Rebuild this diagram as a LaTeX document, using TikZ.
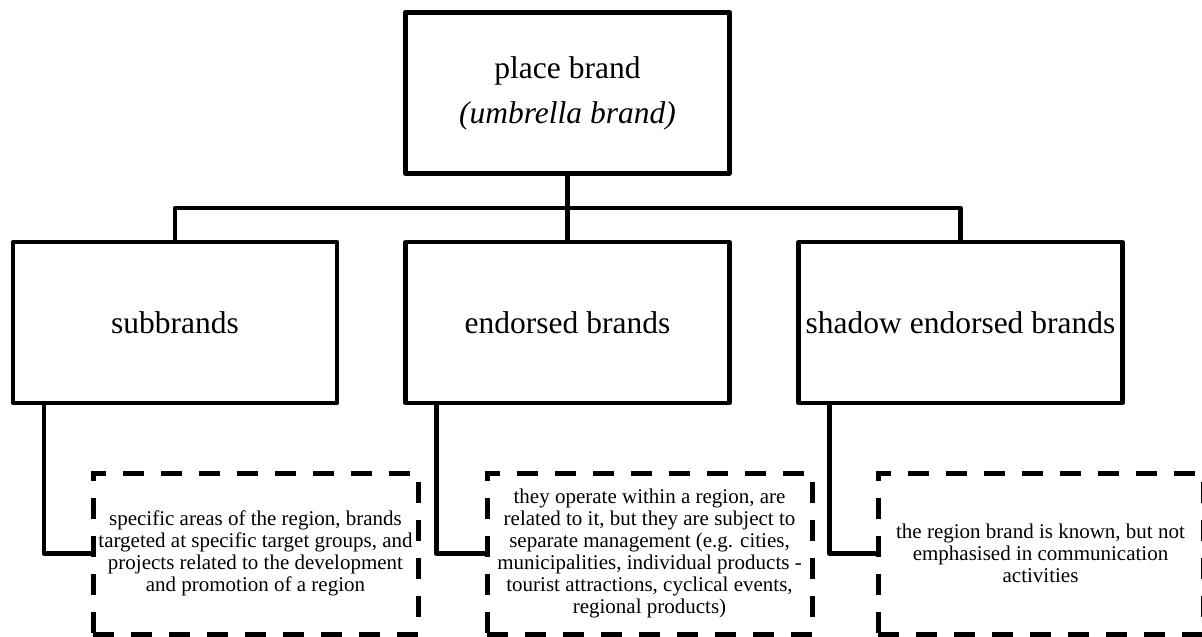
\documentclass[tikz,border=0pt]{standalone}
\usepackage{fontspec}
\setmainfont{Liberation Serif}
\tikzset{
    brandbox/.style={draw, line width=4.2pt, line join=round, inner sep=0pt,
        minimum width=324pt, minimum height=161pt, align=center,
        font=\fontsize{31.5}{45}\selectfont},
    notebox/.style={draw, line width=5pt, dash pattern=on 21pt off 17pt,
        inner sep=0pt, minimum width=325pt, minimum height=161pt, align=center,
        font=\fontsize{21}{22}\selectfont},
    link/.style={line width=4.2pt, line join=round}
}
\begin{document}
\begin{tikzpicture}[x=1pt, y=-1pt]
        \useasboundingbox (0, 0) rectangle (1202, 637);
        % top level
        \node[brandbox] (top) at (567.5, 93) {place brand\\\textit{(umbrella brand)}};
        \coordinate (bus) at (567.5, 208);
        % brand types
        \node[brandbox] (sub) at (175, 322.5) {subbrands};
        \node[brandbox] (endo) at (567.5, 322.5) {endorsed brands};
        \node[brandbox] (shadow) at (960.5, 322.5) {shadow endorsed brands};
        \draw[link] (top.south) -- (endo.north);
        \draw[link] (sub.north) -- (sub.north |- bus) -- (shadow.north |- bus) -- (shadow.north);
        % descriptions
        \node[notebox] (subnote) at (255.5, 553.5) {specific areas of the region, brands\\targeted at specific target groups, and\\projects related to the development\\and promotion of a region};
        \node[notebox] (endonote) at (649.5, 553.5) {they operate within a region, are\\related to it, but they are subject to\\separate management (e.g. cities,\\municipalities, individual products -\\tourist attractions, cyclical events,\\regional products)};
        \node[notebox] (shadownote) at (1040.5, 553.5) {the region brand is known, but not\\emphasised in communication\\activities};
        \draw[link] ([xshift=33pt]sub.south west) |- (subnote.west);
        \draw[link] ([xshift=33pt]endo.south west) |- (endonote.west);
        \draw[link] ([xshift=33pt]shadow.south west) |- (shadownote.west);
    \end{tikzpicture}
\end{document}
